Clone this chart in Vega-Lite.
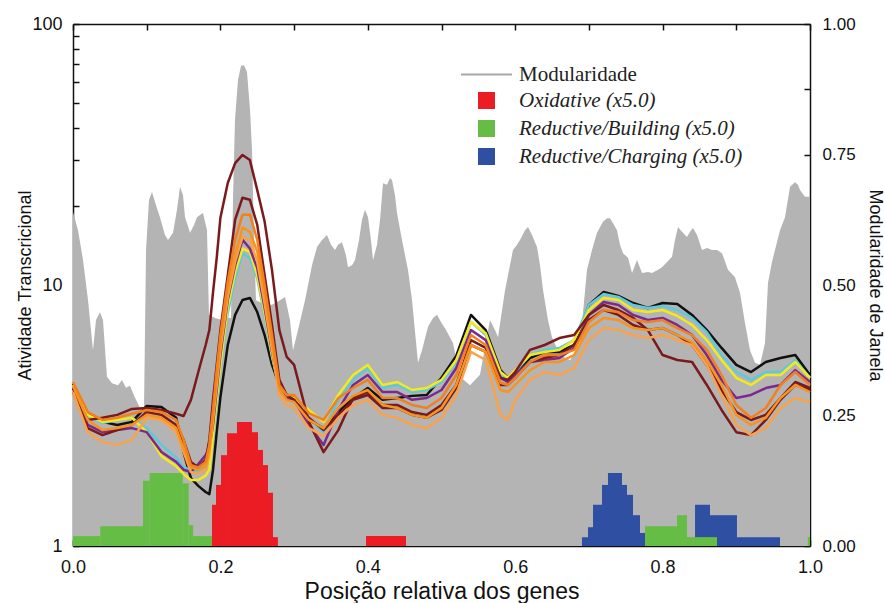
{
"$schema": "https://vega.github.io/schema/vega-lite/v6.json",
"width": 737, "height": 522,
"autosize": {"type": "none"},
"padding": {"left": 73, "top": 24, "right": 75, "bottom": 57},
"background": "white",
"config": {"view": {"stroke": null},
 "axis": {"labelFont": "Liberation Sans", "titleFont": "Liberation Sans", "labelColor": "#111", "titleColor": "#111", "domainColor": "#111", "tickColor": "#111", "domainWidth": 1.5, "tickWidth": 1.5, "grid": false, "titleFontWeight": "normal", "labelFlush": false, "zindex": 1},
 "legend": {"orient": "none", "legendX": 403, "legendY": 40, "title": null, "padding": 0,
   "labelFont": "Liberation Serif", "labelFontSize": 21, "labelColor": "#222", "labelLimit": 400, "symbolSize": 289, "symbolType": "square", "symbolStrokeWidth": 0, "labelOffset": 22, "rowPadding": 3}},
"datasets": {
"mod": [
{"x":0,"m":0.640},{"x":0.0068,"m":0.605},{"x":0.0136,"m":0.548},{"x":0.0204,"m":0.471},{"x":0.0271,"m":0.375},{"x":0.0312,"m":0.433},{"x":0.0366,"m":0.448},{"x":0.0407,"m":0.433},{"x":0.0461,"m":0.324},{"x":0.0529,"m":0.312},{"x":0.0611,"m":0.308},{"x":0.0665,"m":0.318},{"x":0.0719,"m":0.303},{"x":0.0773,"m":0.307},{"x":0.0841,"m":0.284},{"x":0.0923,"m":0.261},{"x":0.0963,"m":0.257},{"x":0.0991,"m":0.567},{"x":0.1031,"m":0.663},{"x":0.1072,"m":0.678},{"x":0.1126,"m":0.653},{"x":0.118,"m":0.630},{"x":0.1248,"m":0.596},{"x":0.1289,"m":0.586},{"x":0.1357,"m":0.600},{"x":0.1411,"m":0.644},{"x":0.1452,"m":0.688},{"x":0.1493,"m":0.672},{"x":0.152,"m":0.630},{"x":0.1588,"m":0.600},{"x":0.1642,"m":0.615},{"x":0.1682,"m":0.630},{"x":0.1723,"m":0.634},{"x":0.1764,"m":0.638},{"x":0.1818,"m":0.605},{"x":0.1845,"m":0.443},{"x":0.1927,"m":0.437},{"x":0.2022,"m":0.433},{"x":0.2103,"m":0.437},{"x":0.2144,"m":0.437},{"x":0.2171,"m":0.663},{"x":0.2198,"m":0.816},{"x":0.2239,"m":0.893},{"x":0.228,"m":0.920},{"x":0.232,"m":0.921},{"x":0.2361,"m":0.908},{"x":0.2402,"m":0.835},{"x":0.2429,"m":0.759},{"x":0.2456,"m":0.586},{"x":0.2483,"m":0.471},{"x":0.2605,"m":0.462},{"x":0.27,"m":0.462},{"x":0.2809,"m":0.471},{"x":0.2877,"m":0.477},{"x":0.2944,"m":0.433},{"x":0.2985,"m":0.375},{"x":0.3053,"m":0.414},{"x":0.3148,"m":0.471},{"x":0.3243,"m":0.538},{"x":0.3311,"m":0.573},{"x":0.3379,"m":0.586},{"x":0.3446,"m":0.596},{"x":0.3501,"m":0.577},{"x":0.3555,"m":0.567},{"x":0.3596,"m":0.577},{"x":0.365,"m":0.582},{"x":0.3704,"m":0.557},{"x":0.3731,"m":0.534},{"x":0.3786,"m":0.538},{"x":0.3826,"m":0.548},{"x":0.3881,"m":0.586},{"x":0.3921,"m":0.625},{"x":0.3962,"m":0.644},{"x":0.4003,"m":0.630},{"x":0.4043,"m":0.586},{"x":0.4071,"m":0.548},{"x":0.4125,"m":0.577},{"x":0.4166,"m":0.625},{"x":0.4206,"m":0.695},{"x":0.4261,"m":0.692},{"x":0.4301,"m":0.705},{"x":0.4328,"m":0.701},{"x":0.4369,"m":0.672},{"x":0.4396,"m":0.638},{"x":0.4464,"m":0.586},{"x":0.4545,"m":0.529},{"x":0.46,"m":0.471},{"x":0.4681,"m":0.351},{"x":0.4735,"m":0.375},{"x":0.4817,"m":0.420},{"x":0.4885,"m":0.437},{"x":0.4939,"m":0.443},{"x":0.4993,"m":0.429},{"x":0.5061,"m":0.414},{"x":0.5156,"m":0.389},{"x":0.5251,"m":0.324},{"x":0.5387,"m":0.308},{"x":0.5522,"m":0.328},{"x":0.5658,"m":0.433},{"x":0.5726,"m":0.414},{"x":0.5767,"m":0.400},{"x":0.5862,"m":0.490},{"x":0.5929,"m":0.538},{"x":0.597,"m":0.567},{"x":0.6024,"m":0.577},{"x":0.6065,"m":0.586},{"x":0.6133,"m":0.605},{"x":0.6174,"m":0.611},{"x":0.6228,"m":0.596},{"x":0.6296,"m":0.573},{"x":0.6337,"m":0.538},{"x":0.6378,"m":0.490},{"x":0.6445,"m":0.433},{"x":0.6499,"m":0.400},{"x":0.6608,"m":0.366},{"x":0.6744,"m":0.356},{"x":0.6879,"m":0.385},{"x":0.6974,"m":0.529},{"x":0.7042,"m":0.567},{"x":0.711,"m":0.600},{"x":0.7191,"m":0.621},{"x":0.7246,"m":0.628},{"x":0.7286,"m":0.628},{"x":0.7341,"m":0.615},{"x":0.7381,"m":0.605},{"x":0.7422,"m":0.577},{"x":0.7463,"m":0.561},{"x":0.7531,"m":0.552},{"x":0.7585,"m":0.523},{"x":0.7653,"m":0.548},{"x":0.7721,"m":0.523},{"x":0.7802,"m":0.525},{"x":0.7856,"m":0.523},{"x":0.7938,"m":0.529},{"x":0.7992,"m":0.534},{"x":0.806,"m":0.544},{"x":0.8128,"m":0.554},{"x":0.8168,"m":0.586},{"x":0.8209,"m":0.611},{"x":0.8263,"m":0.602},{"x":0.8331,"m":0.592},{"x":0.8372,"m":0.602},{"x":0.8412,"m":0.609},{"x":0.8467,"m":0.596},{"x":0.8535,"m":0.567},{"x":0.8603,"m":0.571},{"x":0.867,"m":0.567},{"x":0.8738,"m":0.567},{"x":0.8806,"m":0.561},{"x":0.8887,"m":0.529},{"x":0.8982,"m":0.515},{"x":0.905,"m":0.485},{"x":0.9118,"m":0.427},{"x":0.9186,"m":0.375},{"x":0.9254,"m":0.351},{"x":0.9322,"m":0.347},{"x":0.9389,"m":0.389},{"x":0.943,"m":0.504},{"x":0.9484,"m":0.544},{"x":0.9525,"m":0.567},{"x":0.9593,"m":0.605},{"x":0.9661,"m":0.630},{"x":0.9729,"m":0.688},{"x":0.9797,"m":0.697},{"x":0.9837,"m":0.692},{"x":0.9864,"m":0.682},{"x":0.9932,"m":0.669},{"x":1.0,"m":0.669}
],
"bars": [
{"x0":0.1886,"x1":0.194,"h":0.079,"cat":"Oxidative (x5.0)"},{"x0":0.194,"x1":0.2008,"h":0.117,"cat":"Oxidative (x5.0)"},{"x0":0.2008,"x1":0.209,"h":0.174,"cat":"Oxidative (x5.0)"},{"x0":0.209,"x1":0.2225,"h":0.216,"cat":"Oxidative (x5.0)"},{"x0":0.2225,"x1":0.2429,"h":0.2375,"cat":"Oxidative (x5.0)"},{"x0":0.2429,"x1":0.251,"h":0.218,"cat":"Oxidative (x5.0)"},{"x0":0.251,"x1":0.2578,"h":0.184,"cat":"Oxidative (x5.0)"},{"x0":0.2578,"x1":0.2646,"h":0.155,"cat":"Oxidative (x5.0)"},{"x0":0.2646,"x1":0.2714,"h":0.102,"cat":"Oxidative (x5.0)"},{"x0":0.2714,"x1":0.278,"h":0.017,"cat":"Oxidative (x5.0)"},{"x0":0.3976,"x1":0.4518,"h":0.019,"cat":"Oxidative (x5.0)"},
{"x0":0.6906,"x1":0.6988,"h":0.017,"cat":"Reductive/Charging (x5.0)"},{"x0":0.6988,"x1":0.7056,"h":0.036,"cat":"Reductive/Charging (x5.0)"},{"x0":0.7056,"x1":0.7178,"h":0.079,"cat":"Reductive/Charging (x5.0)"},{"x0":0.7178,"x1":0.7259,"h":0.117,"cat":"Reductive/Charging (x5.0)"},{"x0":0.7259,"x1":0.7449,"h":0.140,"cat":"Reductive/Charging (x5.0)"},{"x0":0.7449,"x1":0.7517,"h":0.117,"cat":"Reductive/Charging (x5.0)"},{"x0":0.7517,"x1":0.7598,"h":0.098,"cat":"Reductive/Charging (x5.0)"},{"x0":0.7598,"x1":0.7693,"h":0.059,"cat":"Reductive/Charging (x5.0)"},{"x0":0.7693,"x1":0.7761,"h":0.025,"cat":"Reductive/Charging (x5.0)"},{"x0":0.844,"x1":0.8643,"h":0.079,"cat":"Reductive/Charging (x5.0)"},{"x0":0.8643,"x1":0.9009,"h":0.059,"cat":"Reductive/Charging (x5.0)"},{"x0":0.9009,"x1":0.9593,"h":0.017,"cat":"Reductive/Charging (x5.0)"},
{"x0":0,"x1":0.037,"h":0.019,"cat":"Reductive/Building (x5.0)"},{"x0":0.037,"x1":0.095,"h":0.038,"cat":"Reductive/Building (x5.0)"},{"x0":0.095,"x1":0.104,"h":0.125,"cat":"Reductive/Building (x5.0)"},{"x0":0.104,"x1":0.149,"h":0.140,"cat":"Reductive/Building (x5.0)"},{"x0":0.149,"x1":0.157,"h":0.120,"cat":"Reductive/Building (x5.0)"},{"x0":0.157,"x1":0.163,"h":0.040,"cat":"Reductive/Building (x5.0)"},{"x0":0.163,"x1":0.1886,"h":0.019,"cat":"Reductive/Building (x5.0)"},{"x0":0.7761,"x1":0.8195,"h":0.038,"cat":"Reductive/Building (x5.0)"},{"x0":0.8195,"x1":0.8331,"h":0.059,"cat":"Reductive/Building (x5.0)"},{"x0":0.8331,"x1":0.8738,"h":0.017,"cat":"Reductive/Building (x5.0)"},{"x0":0.997,"x1":1.0,"h":0.017,"cat":"Reductive/Building (x5.0)"}
],
"lines": [
{"x":0,"s":"s1","v":4.18},{"x":0,"s":"s2","v":4.10},{"x":0,"s":"s3","v":4.14},{"x":0,"s":"s4","v":4.03},{"x":0,"s":"s5","v":3.89},{"x":0,"s":"s6","v":4.03},{"x":0,"s":"s7","v":3.89},{"x":0,"s":"s8","v":4.10},{"x":0,"s":"s9","v":4.25},
{"x":0.02,"s":"s1","v":3.23},{"x":0.02,"s":"s2","v":3.15},{"x":0.02,"s":"s3","v":3.18},{"x":0.02,"s":"s4","v":2.91},{"x":0.02,"s":"s5","v":2.83},{"x":0.02,"s":"s6","v":3.04},{"x":0.02,"s":"s7","v":2.73},{"x":0.02,"s":"s8","v":3.04},{"x":0.02,"s":"s9","v":3.26},
{"x":0.04,"s":"s1","v":2.99},{"x":0.04,"s":"s2","v":2.96},{"x":0.04,"s":"s3","v":2.99},{"x":0.04,"s":"s4","v":2.73},{"x":0.04,"s":"s5","v":2.66},{"x":0.04,"s":"s6","v":3.10},{"x":0.04,"s":"s7","v":2.50},{"x":0.04,"s":"s8","v":2.78},{"x":0.04,"s":"s9","v":3.04},
{"x":0.06,"s":"s1","v":2.91},{"x":0.06,"s":"s2","v":3.04},{"x":0.06,"s":"s3","v":3.04},{"x":0.06,"s":"s4","v":2.78},{"x":0.06,"s":"s5","v":2.78},{"x":0.06,"s":"s6","v":3.18},{"x":0.06,"s":"s7","v":2.44},{"x":0.06,"s":"s8","v":2.83},{"x":0.06,"s":"s9","v":3.10},
{"x":0.08,"s":"s1","v":2.99},{"x":0.08,"s":"s2","v":3.10},{"x":0.08,"s":"s3","v":3.10},{"x":0.08,"s":"s4","v":2.83},{"x":0.08,"s":"s5","v":2.91},{"x":0.08,"s":"s6","v":3.35},{"x":0.08,"s":"s7","v":2.55},{"x":0.08,"s":"s8","v":2.91},{"x":0.08,"s":"s9","v":3.21},
{"x":0.10,"s":"s1","v":3.44},{"x":0.10,"s":"s2","v":2.83},{"x":0.10,"s":"s3","v":2.73},{"x":0.10,"s":"s4","v":2.73},{"x":0.10,"s":"s5","v":3.26},{"x":0.10,"s":"s6","v":3.38},{"x":0.10,"s":"s7","v":3.10},{"x":0.10,"s":"s8","v":3.18},{"x":0.10,"s":"s9","v":3.32},
{"x":0.12,"s":"s1","v":3.41},{"x":0.12,"s":"s2","v":2.44},{"x":0.12,"s":"s3","v":2.21},{"x":0.12,"s":"s4","v":2.29},{"x":0.12,"s":"s5","v":3.18},{"x":0.12,"s":"s6","v":3.32},{"x":0.12,"s":"s7","v":3.04},{"x":0.12,"s":"s8","v":3.10},{"x":0.12,"s":"s9","v":3.26},
{"x":0.14,"s":"s1","v":3.10},{"x":0.14,"s":"s2","v":2.18},{"x":0.14,"s":"s3","v":2.02},{"x":0.14,"s":"s4","v":2.10},{"x":0.14,"s":"s5","v":2.91},{"x":0.14,"s":"s6","v":3.21},{"x":0.14,"s":"s7","v":2.73},{"x":0.14,"s":"s8","v":2.83},{"x":0.14,"s":"s9","v":3.04},
{"x":0.15,"s":"s1","v":2.29},{"x":0.15,"s":"s2","v":2.00},{"x":0.15,"s":"s3","v":1.89},{"x":0.15,"s":"s4","v":1.96},{"x":0.15,"s":"s5","v":2.55},{"x":0.15,"s":"s6","v":3.15},{"x":0.15,"s":"s7","v":2.29},{"x":0.15,"s":"s8","v":2.37},{"x":0.15,"s":"s9","v":2.55},
{"x":0.16,"s":"s1","v":1.82},{"x":0.16,"s":"s2","v":1.96},{"x":0.16,"s":"s3","v":1.79},{"x":0.16,"s":"s4","v":1.92},{"x":0.16,"s":"s5","v":2.10},{"x":0.16,"s":"s6","v":3.63},{"x":0.16,"s":"s7","v":1.92},{"x":0.16,"s":"s8","v":2.00},{"x":0.16,"s":"s9","v":2.04},
{"x":0.17,"s":"s1","v":1.70},{"x":0.17,"s":"s2","v":1.92},{"x":0.17,"s":"s3","v":1.79},{"x":0.17,"s":"s4","v":2.06},{"x":0.17,"s":"s5","v":2.00},{"x":0.17,"s":"s6","v":4.64},{"x":0.17,"s":"s7","v":1.89},{"x":0.17,"s":"s8","v":1.96},{"x":0.17,"s":"s9","v":2.00},
{"x":0.18,"s":"s1","v":1.61},{"x":0.18,"s":"s2","v":2.04},{"x":0.18,"s":"s3","v":1.86},{"x":0.18,"s":"s4","v":2.23},{"x":0.18,"s":"s5","v":2.14},{"x":0.18,"s":"s6","v":5.89},{"x":0.18,"s":"s7","v":1.96},{"x":0.18,"s":"s8","v":2.02},{"x":0.18,"s":"s9","v":2.10},
{"x":0.185,"s":"s1","v":1.58},{"x":0.185,"s":"s2","v":2.10},{"x":0.185,"s":"s3","v":1.96},{"x":0.185,"s":"s4","v":2.37},{"x":0.185,"s":"s5","v":2.55},{"x":0.185,"s":"s6","v":6.72},{"x":0.185,"s":"s7","v":2.23},{"x":0.185,"s":"s8","v":2.33},{"x":0.185,"s":"s9","v":2.44},
{"x":0.19,"s":"s1","v":1.96},{"x":0.19,"s":"s2","v":2.55},{"x":0.19,"s":"s3","v":2.66},{"x":0.19,"s":"s4","v":2.91},{"x":0.19,"s":"s5","v":3.63},{"x":0.19,"s":"s6","v":9.40},{"x":0.19,"s":"s7","v":3.04},{"x":0.19,"s":"s8","v":3.18},{"x":0.19,"s":"s9","v":3.32},
{"x":0.195,"s":"s1","v":2.73},{"x":0.195,"s":"s2","v":3.47},{"x":0.195,"s":"s3","v":3.63},{"x":0.195,"s":"s4","v":3.96},{"x":0.195,"s":"s5","v":4.94},{"x":0.195,"s":"s6","v":12.7},{"x":0.195,"s":"s7","v":4.14},{"x":0.195,"s":"s8","v":4.41},{"x":0.195,"s":"s9","v":4.72},
{"x":0.20,"s":"s1","v":3.72},{"x":0.20,"s":"s2","v":4.72},{"x":0.20,"s":"s3","v":4.94},{"x":0.20,"s":"s4","v":5.39},{"x":0.20,"s":"s5","v":6.72},{"x":0.20,"s":"s6","v":18.1},{"x":0.20,"s":"s7","v":5.64},{"x":0.20,"s":"s8","v":6.00},{"x":0.20,"s":"s9","v":6.43},
{"x":0.21,"s":"s1","v":5.89},{"x":0.21,"s":"s2","v":7.82},{"x":0.21,"s":"s3","v":8.23},{"x":0.21,"s":"s4","v":8.76},{"x":0.21,"s":"s5","v":10.9},{"x":0.21,"s":"s6","v":24.6},{"x":0.21,"s":"s7","v":9.0},{"x":0.21,"s":"s8","v":9.57},{"x":0.21,"s":"s9","v":10.3},
{"x":0.22,"s":"s1","v":7.68},{"x":0.22,"s":"s2","v":10.6},{"x":0.22,"s":"s3","v":11.2},{"x":0.22,"s":"s4","v":11.9},{"x":0.22,"s":"s5","v":17.8},{"x":0.22,"s":"s6","v":29.3},{"x":0.22,"s":"s7","v":12.3},{"x":0.22,"s":"s8","v":13.0},{"x":0.22,"s":"s9","v":14.9},
{"x":0.23,"s":"s1","v":8.76},{"x":0.23,"s":"s2","v":13.2},{"x":0.23,"s":"s3","v":13.8},{"x":0.23,"s":"s4","v":14.9},{"x":0.23,"s":"s5","v":21.6},{"x":0.23,"s":"s6","v":31.5},{"x":0.23,"s":"s7","v":15.3},{"x":0.23,"s":"s8","v":16.6},{"x":0.23,"s":"s9","v":18.6},
{"x":0.24,"s":"s1","v":8.92},{"x":0.24,"s":"s2","v":12.7},{"x":0.24,"s":"s3","v":13.4},{"x":0.24,"s":"s4","v":13.8},{"x":0.24,"s":"s5","v":21.2},{"x":0.24,"s":"s6","v":30.1},{"x":0.24,"s":"s7","v":14.9},{"x":0.24,"s":"s8","v":16.0},{"x":0.24,"s":"s9","v":18.6},
{"x":0.25,"s":"s1","v":7.88},{"x":0.25,"s":"s2","v":10.6},{"x":0.25,"s":"s3","v":10.9},{"x":0.25,"s":"s4","v":11.6},{"x":0.25,"s":"s5","v":17.0},{"x":0.25,"s":"s6","v":23.1},{"x":0.25,"s":"s7","v":12.3},{"x":0.25,"s":"s8","v":13.4},{"x":0.25,"s":"s9","v":14.9},
{"x":0.26,"s":"s1","v":6.43},{"x":0.26,"s":"s2","v":7.61},{"x":0.26,"s":"s3","v":7.82},{"x":0.26,"s":"s4","v":8.16},{"x":0.26,"s":"s5","v":10.9},{"x":0.26,"s":"s6","v":17.5},{"x":0.26,"s":"s7","v":8.53},{"x":0.26,"s":"s8","v":9.16},{"x":0.26,"s":"s9","v":10.0},
{"x":0.27,"s":"s1","v":4.94},{"x":0.27,"s":"s2","v":5.30},{"x":0.27,"s":"s3","v":5.39},{"x":0.27,"s":"s4","v":5.54},{"x":0.27,"s":"s5","v":7.03},{"x":0.27,"s":"s6","v":11.4},{"x":0.27,"s":"s7","v":5.64},{"x":0.27,"s":"s8","v":6.00},{"x":0.27,"s":"s9","v":6.43},
{"x":0.28,"s":"s1","v":4.14},{"x":0.28,"s":"s2","v":4.03},{"x":0.28,"s":"s3","v":4.03},{"x":0.28,"s":"s4","v":3.96},{"x":0.28,"s":"s5","v":4.33},{"x":0.28,"s":"s6","v":6.72},{"x":0.28,"s":"s7","v":3.79},{"x":0.28,"s":"s8","v":3.96},{"x":0.28,"s":"s9","v":4.14},
{"x":0.29,"s":"s1","v":3.79},{"x":0.29,"s":"s2","v":3.72},{"x":0.29,"s":"s3","v":3.76},{"x":0.29,"s":"s4","v":3.69},{"x":0.29,"s":"s5","v":3.79},{"x":0.29,"s":"s6","v":5.30},{"x":0.29,"s":"s7","v":3.47},{"x":0.29,"s":"s8","v":3.63},{"x":0.29,"s":"s9","v":3.79},
{"x":0.30,"s":"s1","v":3.69},{"x":0.30,"s":"s2","v":3.63},{"x":0.30,"s":"s3","v":3.69},{"x":0.30,"s":"s4","v":3.63},{"x":0.30,"s":"s5","v":3.63},{"x":0.30,"s":"s6","v":4.94},{"x":0.30,"s":"s7","v":3.38},{"x":0.30,"s":"s8","v":3.56},{"x":0.30,"s":"s9","v":3.79},
{"x":0.32,"s":"s1","v":3.04},{"x":0.32,"s":"s2","v":3.10},{"x":0.32,"s":"s3","v":3.32},{"x":0.32,"s":"s4","v":2.91},{"x":0.32,"s":"s5","v":3.10},{"x":0.32,"s":"s6","v":2.99},{"x":0.32,"s":"s7","v":2.83},{"x":0.32,"s":"s8","v":3.04},{"x":0.32,"s":"s9","v":3.23},
{"x":0.34,"s":"s1","v":2.83},{"x":0.34,"s":"s2","v":2.73},{"x":0.34,"s":"s3","v":2.99},{"x":0.34,"s":"s4","v":2.44},{"x":0.34,"s":"s5","v":2.78},{"x":0.34,"s":"s6","v":2.29},{"x":0.34,"s":"s7","v":2.64},{"x":0.34,"s":"s8","v":2.83},{"x":0.34,"s":"s9","v":3.04},
{"x":0.36,"s":"s1","v":3.26},{"x":0.36,"s":"s2","v":3.63},{"x":0.36,"s":"s3","v":3.79},{"x":0.36,"s":"s4","v":3.32},{"x":0.36,"s":"s5","v":3.18},{"x":0.36,"s":"s6","v":2.78},{"x":0.36,"s":"s7","v":3.10},{"x":0.36,"s":"s8","v":3.38},{"x":0.36,"s":"s9","v":3.69},
{"x":0.38,"s":"s1","v":3.69},{"x":0.38,"s":"s2","v":4.33},{"x":0.38,"s":"s3","v":4.52},{"x":0.38,"s":"s4","v":4.14},{"x":0.38,"s":"s5","v":3.63},{"x":0.38,"s":"s6","v":3.69},{"x":0.38,"s":"s7","v":3.47},{"x":0.38,"s":"s8","v":3.76},{"x":0.38,"s":"s9","v":4.03},
{"x":0.40,"s":"s1","v":4.03},{"x":0.40,"s":"s2","v":4.81},{"x":0.40,"s":"s3","v":4.94},{"x":0.40,"s":"s4","v":4.52},{"x":0.40,"s":"s5","v":3.79},{"x":0.40,"s":"s6","v":3.89},{"x":0.40,"s":"s7","v":3.63},{"x":0.40,"s":"s8","v":3.96},{"x":0.40,"s":"s9","v":4.33},
{"x":0.42,"s":"s1","v":3.63},{"x":0.42,"s":"s2","v":4.03},{"x":0.42,"s":"s3","v":4.14},{"x":0.42,"s":"s4","v":3.89},{"x":0.42,"s":"s5","v":3.38},{"x":0.42,"s":"s6","v":3.47},{"x":0.42,"s":"s7","v":3.18},{"x":0.42,"s":"s8","v":3.47},{"x":0.42,"s":"s9","v":3.69},
{"x":0.44,"s":"s1","v":3.69},{"x":0.44,"s":"s2","v":4.14},{"x":0.44,"s":"s3","v":4.25},{"x":0.44,"s":"s4","v":3.89},{"x":0.44,"s":"s5","v":3.38},{"x":0.44,"s":"s6","v":3.47},{"x":0.44,"s":"s7","v":3.10},{"x":0.44,"s":"s8","v":3.38},{"x":0.44,"s":"s9","v":3.69},
{"x":0.46,"s":"s1","v":3.76},{"x":0.46,"s":"s2","v":3.89},{"x":0.46,"s":"s3","v":3.96},{"x":0.46,"s":"s4","v":3.63},{"x":0.46,"s":"s5","v":3.18},{"x":0.46,"s":"s6","v":3.26},{"x":0.46,"s":"s7","v":2.91},{"x":0.46,"s":"s8","v":3.18},{"x":0.46,"s":"s9","v":3.47},
{"x":0.48,"s":"s1","v":3.79},{"x":0.48,"s":"s2","v":3.96},{"x":0.48,"s":"s3","v":4.03},{"x":0.48,"s":"s4","v":3.69},{"x":0.48,"s":"s5","v":3.10},{"x":0.48,"s":"s6","v":3.18},{"x":0.48,"s":"s7","v":2.83},{"x":0.48,"s":"s8","v":3.10},{"x":0.48,"s":"s9","v":3.38},
{"x":0.50,"s":"s1","v":4.41},{"x":0.50,"s":"s2","v":4.25},{"x":0.50,"s":"s3","v":4.33},{"x":0.50,"s":"s4","v":3.96},{"x":0.50,"s":"s5","v":3.32},{"x":0.50,"s":"s6","v":3.47},{"x":0.50,"s":"s7","v":3.10},{"x":0.50,"s":"s8","v":3.38},{"x":0.50,"s":"s9","v":3.69},
{"x":0.52,"s":"s1","v":5.35},{"x":0.52,"s":"s2","v":5.07},{"x":0.52,"s":"s3","v":5.16},{"x":0.52,"s":"s4","v":4.81},{"x":0.52,"s":"s5","v":4.03},{"x":0.52,"s":"s6","v":4.14},{"x":0.52,"s":"s7","v":3.79},{"x":0.52,"s":"s8","v":4.14},{"x":0.52,"s":"s9","v":4.52},
{"x":0.54,"s":"s1","v":7.68},{"x":0.54,"s":"s2","v":7.22},{"x":0.54,"s":"s3","v":7.22},{"x":0.54,"s":"s4","v":6.72},{"x":0.54,"s":"s5","v":5.89},{"x":0.54,"s":"s6","v":6.15},{"x":0.54,"s":"s7","v":5.54},{"x":0.54,"s":"s8","v":5.89},{"x":0.54,"s":"s9","v":6.43},
{"x":0.56,"s":"s1","v":6.72},{"x":0.56,"s":"s2","v":6.43},{"x":0.56,"s":"s3","v":6.54},{"x":0.56,"s":"s4","v":6.15},{"x":0.56,"s":"s5","v":5.54},{"x":0.56,"s":"s6","v":5.74},{"x":0.56,"s":"s7","v":5.16},{"x":0.56,"s":"s8","v":5.54},{"x":0.56,"s":"s9","v":5.89},
{"x":0.58,"s":"s1","v":4.72},{"x":0.58,"s":"s2","v":4.52},{"x":0.58,"s":"s3","v":4.64},{"x":0.58,"s":"s4","v":4.41},{"x":0.58,"s":"s5","v":4.14},{"x":0.58,"s":"s6","v":4.41},{"x":0.58,"s":"s7","v":3.18},{"x":0.58,"s":"s8","v":3.96},{"x":0.58,"s":"s9","v":4.22},
{"x":0.59,"s":"s1","v":4.41},{"x":0.59,"s":"s2","v":4.33},{"x":0.59,"s":"s3","v":4.41},{"x":0.59,"s":"s4","v":4.25},{"x":0.59,"s":"s5","v":4.14},{"x":0.59,"s":"s6","v":4.33},{"x":0.59,"s":"s7","v":3.04},{"x":0.59,"s":"s8","v":3.89},{"x":0.59,"s":"s9","v":4.14},
{"x":0.60,"s":"s1","v":4.64},{"x":0.60,"s":"s2","v":4.64},{"x":0.60,"s":"s3","v":4.72},{"x":0.60,"s":"s4","v":4.52},{"x":0.60,"s":"s5","v":4.41},{"x":0.60,"s":"s6","v":4.64},{"x":0.60,"s":"s7","v":3.63},{"x":0.60,"s":"s8","v":4.14},{"x":0.60,"s":"s9","v":4.41},
{"x":0.62,"s":"s1","v":5.25},{"x":0.62,"s":"s2","v":5.39},{"x":0.62,"s":"s3","v":5.39},{"x":0.62,"s":"s4","v":5.07},{"x":0.62,"s":"s5","v":5.07},{"x":0.62,"s":"s6","v":5.64},{"x":0.62,"s":"s7","v":4.33},{"x":0.62,"s":"s8","v":4.72},{"x":0.62,"s":"s9","v":5.07},
{"x":0.64,"s":"s1","v":5.54},{"x":0.64,"s":"s2","v":5.64},{"x":0.64,"s":"s3","v":5.54},{"x":0.64,"s":"s4","v":5.16},{"x":0.64,"s":"s5","v":5.25},{"x":0.64,"s":"s6","v":5.89},{"x":0.64,"s":"s7","v":4.64},{"x":0.64,"s":"s8","v":5.07},{"x":0.64,"s":"s9","v":5.39},
{"x":0.66,"s":"s1","v":5.54},{"x":0.66,"s":"s2","v":5.74},{"x":0.66,"s":"s3","v":5.64},{"x":0.66,"s":"s4","v":5.25},{"x":0.66,"s":"s5","v":5.39},{"x":0.66,"s":"s6","v":6.26},{"x":0.66,"s":"s7","v":4.52},{"x":0.66,"s":"s8","v":5.07},{"x":0.66,"s":"s9","v":5.39},
{"x":0.68,"s":"s1","v":5.89},{"x":0.68,"s":"s2","v":6.15},{"x":0.68,"s":"s3","v":6.15},{"x":0.68,"s":"s4","v":5.74},{"x":0.68,"s":"s5","v":5.89},{"x":0.68,"s":"s6","v":6.43},{"x":0.68,"s":"s7","v":4.81},{"x":0.68,"s":"s8","v":5.39},{"x":0.68,"s":"s9","v":5.64},
{"x":0.70,"s":"s1","v":8.38},{"x":0.70,"s":"s2","v":8.38},{"x":0.70,"s":"s3","v":8.02},{"x":0.70,"s":"s4","v":7.68},{"x":0.70,"s":"s5","v":7.34},{"x":0.70,"s":"s6","v":7.68},{"x":0.70,"s":"s7","v":6.15},{"x":0.70,"s":"s8","v":6.84},{"x":0.70,"s":"s9","v":7.22},
{"x":0.72,"s":"s1","v":9.40},{"x":0.72,"s":"s2","v":9.24},{"x":0.72,"s":"s3","v":8.92},{"x":0.72,"s":"s4","v":8.61},{"x":0.72,"s":"s5","v":8.02},{"x":0.72,"s":"s6","v":8.38},{"x":0.72,"s":"s7","v":6.84},{"x":0.72,"s":"s8","v":7.48},{"x":0.72,"s":"s9","v":8.02},
{"x":0.74,"s":"s1","v":9.08},{"x":0.74,"s":"s2","v":9.00},{"x":0.74,"s":"s3","v":8.76},{"x":0.74,"s":"s4","v":8.38},{"x":0.74,"s":"s5","v":7.68},{"x":0.74,"s":"s6","v":8.02},{"x":0.74,"s":"s7","v":6.72},{"x":0.74,"s":"s8","v":7.34},{"x":0.74,"s":"s9","v":7.88},
{"x":0.76,"s":"s1","v":8.53},{"x":0.76,"s":"s2","v":8.38},{"x":0.76,"s":"s3","v":8.02},{"x":0.76,"s":"s4","v":7.68},{"x":0.76,"s":"s5","v":7.03},{"x":0.76,"s":"s6","v":7.48},{"x":0.76,"s":"s7","v":6.43},{"x":0.76,"s":"s8","v":6.84},{"x":0.76,"s":"s9","v":7.34},
{"x":0.78,"s":"s1","v":8.16},{"x":0.78,"s":"s2","v":8.16},{"x":0.78,"s":"s3","v":7.88},{"x":0.78,"s":"s4","v":7.34},{"x":0.78,"s":"s5","v":6.72},{"x":0.78,"s":"s6","v":6.72},{"x":0.78,"s":"s7","v":6.26},{"x":0.78,"s":"s8","v":6.72},{"x":0.78,"s":"s9","v":7.22},
{"x":0.80,"s":"s1","v":8.53},{"x":0.80,"s":"s2","v":8.31},{"x":0.80,"s":"s3","v":8.02},{"x":0.80,"s":"s4","v":7.48},{"x":0.80,"s":"s5","v":6.84},{"x":0.80,"s":"s6","v":5.39},{"x":0.80,"s":"s7","v":6.43},{"x":0.80,"s":"s8","v":6.84},{"x":0.80,"s":"s9","v":7.34},
{"x":0.82,"s":"s1","v":8.46},{"x":0.82,"s":"s2","v":8.02},{"x":0.82,"s":"s3","v":7.61},{"x":0.82,"s":"s4","v":7.03},{"x":0.82,"s":"s5","v":6.43},{"x":0.82,"s":"s6","v":5.16},{"x":0.82,"s":"s7","v":6.15},{"x":0.82,"s":"s8","v":6.43},{"x":0.82,"s":"s9","v":6.84},
{"x":0.84,"s":"s1","v":7.68},{"x":0.84,"s":"s2","v":7.48},{"x":0.84,"s":"s3","v":7.03},{"x":0.84,"s":"s4","v":6.43},{"x":0.84,"s":"s5","v":5.89},{"x":0.84,"s":"s6","v":5.07},{"x":0.84,"s":"s7","v":5.89},{"x":0.84,"s":"s8","v":6.04},{"x":0.84,"s":"s9","v":6.43},
{"x":0.86,"s":"s1","v":6.72},{"x":0.86,"s":"s2","v":6.60},{"x":0.86,"s":"s3","v":6.15},{"x":0.86,"s":"s4","v":5.39},{"x":0.86,"s":"s5","v":4.94},{"x":0.86,"s":"s6","v":4.14},{"x":0.86,"s":"s7","v":4.94},{"x":0.86,"s":"s8","v":5.16},{"x":0.86,"s":"s9","v":5.64},
{"x":0.88,"s":"s1","v":5.74},{"x":0.88,"s":"s2","v":5.39},{"x":0.88,"s":"s3","v":5.16},{"x":0.88,"s":"s4","v":4.33},{"x":0.88,"s":"s5","v":3.96},{"x":0.88,"s":"s6","v":3.32},{"x":0.88,"s":"s7","v":3.79},{"x":0.88,"s":"s8","v":4.14},{"x":0.88,"s":"s9","v":4.52},
{"x":0.90,"s":"s1","v":4.94},{"x":0.90,"s":"s2","v":4.64},{"x":0.90,"s":"s3","v":4.41},{"x":0.90,"s":"s4","v":3.69},{"x":0.90,"s":"s5","v":3.26},{"x":0.90,"s":"s6","v":2.73},{"x":0.90,"s":"s7","v":2.91},{"x":0.90,"s":"s8","v":3.18},{"x":0.90,"s":"s9","v":3.47},
{"x":0.92,"s":"s1","v":4.64},{"x":0.92,"s":"s2","v":4.33},{"x":0.92,"s":"s3","v":4.14},{"x":0.92,"s":"s4","v":3.79},{"x":0.92,"s":"s5","v":3.04},{"x":0.92,"s":"s6","v":2.66},{"x":0.92,"s":"s7","v":2.66},{"x":0.92,"s":"s8","v":2.91},{"x":0.92,"s":"s9","v":3.10},
{"x":0.94,"s":"s1","v":5.07},{"x":0.94,"s":"s2","v":4.64},{"x":0.94,"s":"s3","v":4.52},{"x":0.94,"s":"s4","v":4.03},{"x":0.94,"s":"s5","v":3.18},{"x":0.94,"s":"s6","v":3.04},{"x":0.94,"s":"s7","v":2.83},{"x":0.94,"s":"s8","v":3.10},{"x":0.94,"s":"s9","v":3.38},
{"x":0.96,"s":"s1","v":5.25},{"x":0.96,"s":"s2","v":4.64},{"x":0.96,"s":"s3","v":4.52},{"x":0.96,"s":"s4","v":4.14},{"x":0.96,"s":"s5","v":3.69},{"x":0.96,"s":"s6","v":3.63},{"x":0.96,"s":"s7","v":3.38},{"x":0.96,"s":"s8","v":3.69},{"x":0.96,"s":"s9","v":4.14},
{"x":0.98,"s":"s1","v":5.39},{"x":0.98,"s":"s2","v":5.16},{"x":0.98,"s":"s3","v":5.07},{"x":0.98,"s":"s4","v":4.72},{"x":0.98,"s":"s5","v":4.25},{"x":0.98,"s":"s6","v":4.14},{"x":0.98,"s":"s7","v":3.69},{"x":0.98,"s":"s8","v":4.14},{"x":0.98,"s":"s9","v":4.64},
{"x":1.0,"s":"s1","v":4.52},{"x":1.0,"s":"s2","v":4.41},{"x":1.0,"s":"s3","v":4.41},{"x":1.0,"s":"s4","v":4.25},{"x":1.0,"s":"s5","v":4.03},{"x":1.0,"s":"s6","v":3.96},{"x":1.0,"s":"s7","v":3.56},{"x":1.0,"s":"s8","v":3.89},{"x":1.0,"s":"s9","v":4.14}
]
},
"layer": [
 {"layer": [
  {"data": {"name": "mod"}, "mark": {"type": "area", "opacity": 1},
   "encoding": {
    "x": {"field": "x", "type": "quantitative", "scale": {"domain": [0, 1], "nice": false, "zero": false},
      "axis": {"orient": "top", "values": [0,0.1,0.2,0.3,0.4,0.5,0.6,0.7,0.8,0.9,1], "labels": false, "tickSize": -6, "title": null}},
    "y": {"field": "m", "type": "quantitative", "scale": {"domain": [0, 1], "nice": false},
      "axis": {"orient": "right", "values": [0,0.125,0.25,0.375,0.5,0.625,0.75,0.875,1], "labelExpr": "(datum.value*4)%1==0 ? format(datum.value,'.2f') : ''", "tickSize": -6, "labelPadding": 18, "labelFontSize": 17, "title": "Modularidade de Janela", "titleFontSize": 18, "titlePadding": 10}},
    "color": {"datum": "Modularidade", "type": "nominal",
      "scale": {"domain": ["Modularidade", "Oxidative (x5.0)", "Reductive/Building (x5.0)", "Reductive/Charging (x5.0)"], "range": ["#b4b4b4", "#ec1c24", "#66bd46", "#2f4fa3"]},
      "legend": {"title": null,
        "encode": {
          "symbols": {"update": {"shape": {"signal": "datum.value === 'Modularidade' ? 'M-3,0H3' : 'square'"}, "stroke": {"signal": "datum.value === 'Modularidade' ? '#a8a8a8' : 'transparent'"}, "strokeWidth": {"value": 2}}},
          "labels": {"update": {"fontStyle": {"signal": "datum.value === 'Modularidade' ? 'normal' : 'italic'"}}}
        }}}
   }},
  {"data": {"name": "bars"}, "mark": {"type": "rect"},
   "encoding": {
    "x": {"field": "x0", "type": "quantitative", "axis": {"orient": "top", "values": [0,0.1,0.2,0.3,0.4,0.5,0.6,0.7,0.8,0.9,1], "labels": false, "tickSize": -6, "title": null}},
    "x2": {"field": "x1"},
    "y": {"field": "h", "type": "quantitative", "axis": {"orient": "right", "values": [0,0.125,0.25,0.375,0.5,0.625,0.75,0.875,1], "labelExpr": "(datum.value*4)%1==0 ? format(datum.value,'.2f') : ''", "tickSize": -6, "labelPadding": 18, "labelFontSize": 17, "title": "Modularidade de Janela", "titleFontSize": 18, "titlePadding": 10}},
    "y2": {"datum": 0},
    "color": {"field": "cat", "type": "nominal",
      "legend": {"title": null,
        "encode": {
          "symbols": {"update": {"shape": {"signal": "datum.value === 'Modularidade' ? 'M-3,0H3' : 'square'"}, "stroke": {"signal": "datum.value === 'Modularidade' ? '#a8a8a8' : 'transparent'"}, "strokeWidth": {"value": 2}}},
          "labels": {"update": {"fontStyle": {"signal": "datum.value === 'Modularidade' ? 'normal' : 'italic'"}}}
        }}}
   }}
 ]},
 {"data": {"name": "lines"}, "mark": {"type": "line", "strokeWidth": 2.5, "strokeJoin": "round"},
  "encoding": {
   "x": {"field": "x", "type": "quantitative",
     "axis": {"orient": "bottom", "values": [0,0.1,0.2,0.3,0.4,0.5,0.6,0.7,0.8,0.9,1], "labelExpr": "round(datum.value*10)%2==0 ? format(datum.value,'.1f') : ''", "tickSize": -6, "labelPadding": 18, "labelFontSize": 18, "title": "Posição relativa dos genes", "titleFontSize": 23, "titlePadding": 4}},
   "y": {"field": "v", "type": "quantitative", "scale": {"type": "log", "domain": [1, 100], "nice": false},
     "axis": {"orient": "left", "values": [1,2,3,4,5,6,7,8,9,10,20,30,40,50,60,70,80,90,100], "labelExpr": "(datum.value==1||datum.value==10||datum.value==100) ? format(datum.value,'d') : ''", "tickSize": -6, "labelPadding": 17, "labelFontSize": 18, "title": "Atividade Transcricional", "titleFontSize": 18, "titlePadding": -3}},
   "color": {"field": "s", "type": "nominal", "legend": null,
     "scale": {"domain": ["s1","s2","s3","s4","s5","s6","s7","s8","s9"], "range": ["#111111","#5ec8dc","#f2ea1c","#7b2a8c","#7a1a1d","#7a1a1d","#f9a24c","#f7941d","#f2801f"]}}
  }}
],
"resolve": {"scale": {"y": "independent", "color": "independent"}, "axis": {"x": "independent"}}
}
